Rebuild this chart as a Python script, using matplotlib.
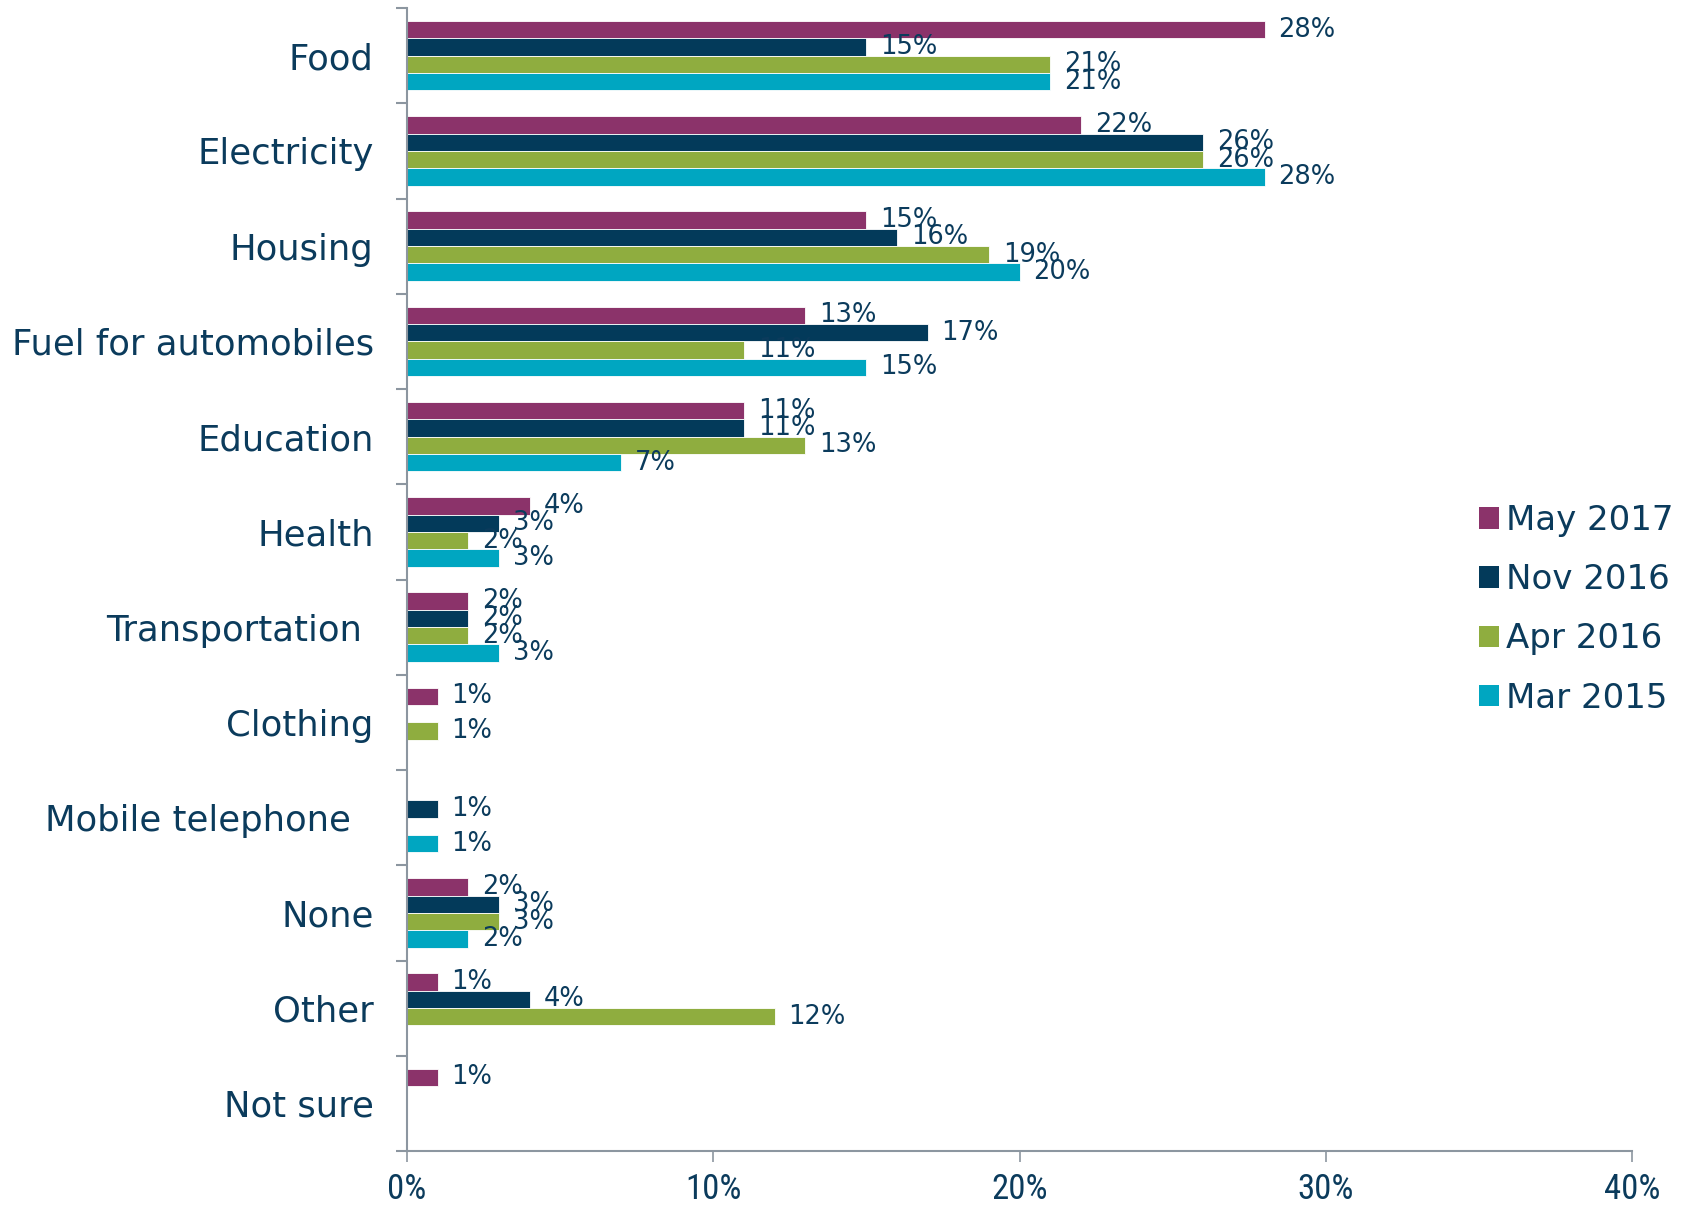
import numpy as np
import matplotlib
matplotlib.use("Agg")
import matplotlib.pyplot as plt
from matplotlib import font_manager as fm
from matplotlib.patches import Patch

categories = ["Food", "Electricity", "Housing", "Fuel for automobiles", "Education",
              "Health", "Transportation ", "Clothing", "Mobile telephone  ", "None",
              "Other", "Not sure"]
series_names = ["May 2017", "Nov 2016", "Apr 2016", "Mar 2015"]
may_2017 = [28, 22, 15, 13, 11, 4, 2, 1, None, 2, 1, 1]
nov_2016 = [15, 26, 16, 17, 11, 3, 2, None, 1, 3, 4, None]
apr_2016 = [21, 26, 19, 11, 13, 2, 2, 1, None, 3, 12, None]
mar_2015 = [21, 28, 20, 15, 7, 3, 3, None, 1, 2, None, None]
x_ticks = [0, 10, 20, 30, 40]
x_tick_labels = ["0%", "10%", "20%", "30%", "40%"]

colors = ["#8B336A", "#033A5A", "#8FAD3F", "#00A6C1"]
text_color = "#0B3B5C"
axis_color = "#8C96A0"

available = {f.name for f in fm.fontManager.ttflist}
narrow = "DejaVu Sans"
for cand in ["Liberation Sans Narrow", "Roboto Condensed", "DejaVu Sans Condensed"]:
    if cand in available:
        narrow = cand
        break

plt.rcParams["font.family"] = ["DejaVu Sans"]

fig = plt.figure(figsize=(16.86, 12.05), dpi=100)
ax = fig.add_axes([407 / 1686, 1 - 1151 / 1205, (1632 - 407) / 1686, (1151 - 8) / 1205])

all_series = [may_2017, nov_2016, apr_2016, mar_2015]
n = len(categories)
bar_h = 0.182
y_centers = np.arange(n)
for si, (vals, col) in enumerate(zip(all_series, colors)):
    offs = (si - 1.5) * bar_h
    for ci, v in enumerate(vals):
        if v is None:
            continue
        y = y_centers[ci] + offs
        ax.barh(y, v, height=bar_h, color=col, edgecolor="white", linewidth=0.6)
        ax.annotate(f"{v}%", xy=(v, y), xytext=(10, 0), textcoords="offset points",
                    ha="left", va="center", fontsize=18.5, color=text_color)

ax.set_ylim(n - 0.5, -0.5)
ax.set_xlim(0, 40)

ax.set_yticks(y_centers)
ax.set_yticklabels(categories, fontsize=25.5, color=text_color)
ax.set_yticks(np.arange(n + 1) - 0.5, minor=True)
ax.tick_params(axis="y", which="major", length=0, pad=24)
ax.tick_params(axis="y", which="minor", length=8, width=1.5, color=axis_color, direction="out")

ax.set_xticks(x_ticks)
ax.set_xticklabels(x_tick_labels, fontsize=25, color=text_color,
                   fontfamily=narrow, fontweight="normal")
ax.tick_params(axis="x", length=8, width=1.2, color=axis_color, pad=8)

for side in ["top", "right"]:
    ax.spines[side].set_visible(False)
for side in ["left", "bottom"]:
    ax.spines[side].set_color(axis_color)
    ax.spines[side].set_linewidth(1.5)

handles = [Patch(facecolor=c, edgecolor="none") for c in colors]
leg = fig.legend(handles, series_names, loc="upper left",
                 bbox_to_anchor=(1479 / 1686, 1 - 504 / 1205),
                 frameon=False, fontsize=24.5, handlelength=0.6, handleheight=0.6,
                 handletextpad=0.2, labelspacing=0.77, borderpad=0, borderaxespad=0)
for t in leg.get_texts():
    t.set_color(text_color)

fig.savefig("out.png", dpi=100)
